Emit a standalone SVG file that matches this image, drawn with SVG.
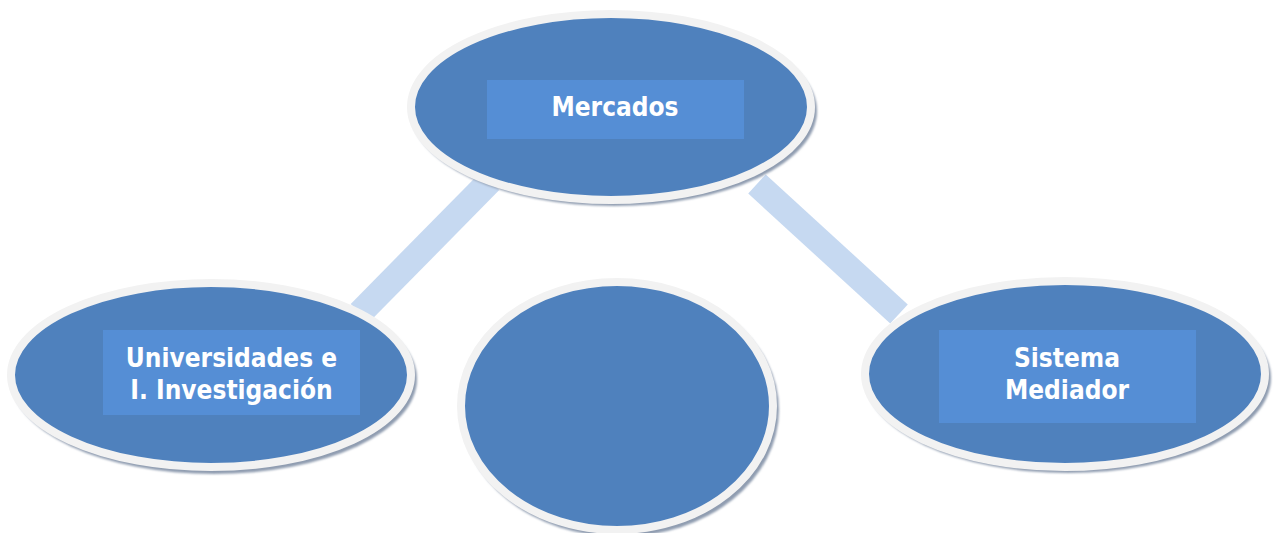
<svg xmlns="http://www.w3.org/2000/svg" width="1273" height="533" viewBox="0 0 1273 533">
  <defs>
    <filter id="blur" x="-10%" y="-10%" width="120%" height="120%">
      <feGaussianBlur stdDeviation="0.8"/>
    </filter>
  </defs>
  <style>
    .shadow { fill: #8f9cb0; filter: url(#blur); }
    .node { fill: #4f81bd; stroke: #f2f2f2; stroke-width: 8; }
    .box { fill: #558ed5; }
    .label { font-family: "DejaVu Sans Condensed", "DejaVu Sans", Verdana, sans-serif; font-stretch: condensed; font-weight: bold; font-size: 26px; fill: #ffffff; text-anchor: middle; }
    .link { stroke: #c6d9f1; stroke-width: 26; stroke-linecap: butt; fill: none; }
  </style>
  <rect width="1273" height="533" fill="#ffffff"/>

  <g id="connectors">
    <line class="link" x1="360" y1="313" x2="490" y2="181"/>
    <line class="link" x1="757" y1="184" x2="899" y2="314"/>
  </g>

  <g id="mercados">
    <ellipse class="shadow" cx="614" cy="111" rx="203" ry="95"/>
    <ellipse class="node" cx="611" cy="107" rx="200" ry="93"/>
    <rect class="box" x="487" y="80" width="257" height="59"/>
    <text class="label" x="615" y="116">Mercados</text>
  </g>

  <g id="universidades">
    <ellipse class="shadow" cx="214" cy="379" rx="203" ry="95"/>
    <ellipse class="node" cx="211" cy="375" rx="200" ry="92"/>
    <rect class="box" x="103" y="330" width="257" height="85"/>
    <text class="label" x="231.5" y="367">Universidades e</text>
    <text class="label" x="231.5" y="399">I. Investigación</text>
  </g>

  <g id="centro">
    <ellipse class="shadow" cx="620" cy="410" rx="159" ry="127"/>
    <ellipse class="node" cx="617" cy="406" rx="156" ry="124"/>
  </g>

  <g id="sistema">
    <ellipse class="shadow" cx="1068" cy="378" rx="203" ry="95"/>
    <ellipse class="node" cx="1065" cy="374" rx="200" ry="93"/>
    <rect class="box" x="939" y="330" width="257" height="93"/>
    <text class="label" x="1067" y="367">Sistema</text>
    <text class="label" x="1067" y="399">Mediador</text>
  </g>
</svg>
